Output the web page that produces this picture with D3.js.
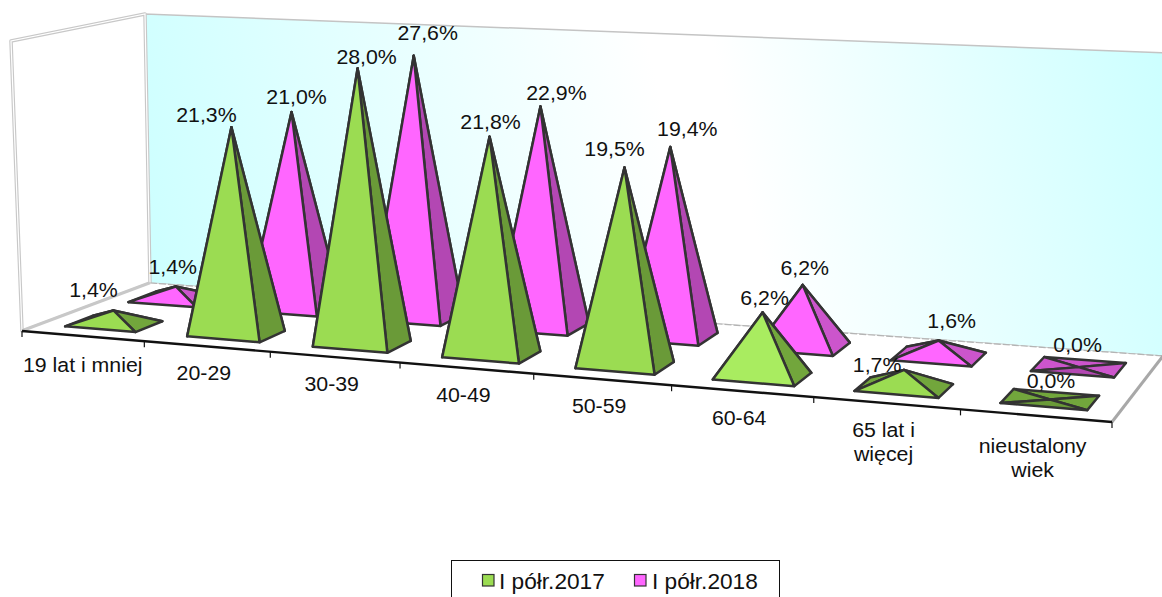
<!DOCTYPE html>
<html>
<head>
<meta charset="utf-8">
<style>
  html, body { margin: 0; padding: 0; background: #fff; overflow: hidden; }
  text { font-family: "Liberation Sans", Arial, sans-serif; fill: #111; }
</style>
<script src="https://cdn.jsdelivr.net/npm/d3@7/dist/d3.min.js"></script>
</head>
<body>
<svg id="chart" width="1162" height="597"></svg>
<script>
var categories = ['19 lat i mniej', '20-29', '30-39', '40-49', '50-59', '60-64', '65 lat i\nwięcej', 'nieustalony\nwiek'];
var values2017 = [1.4, 21.3, 28.0, 21.8, 19.5, 6.2, 1.7, 0.0];
var values2018 = [1.4, 21.0, 27.6, 22.9, 19.4, 6.2, 1.6, 0.0];
var axisMax = 30;

var svg = d3.select('#chart');
var fmt = d3.formatLocale({decimal: ',', thousands: ' ', grouping: [3], currency: ['', '']}).format('.1f');

// corners of the box: floor and the plane at the top of the value axis
var floorQuad = [[22, 331], [1112, 422], [1163, 356], [150, 283]];
var topQuad = [[11, 41], [1120, 95], [1169, 53], [145, 14]];

// foreshortening along the category axis, a bit weaker towards the back wall
function warp(t, d) {
  var k = 1.13 - 0.015 * d;
  return t / (k + (1 - k) * t);
}

function lerp(a, b, t) { return [a[0] + (b[0] - a[0]) * t, a[1] + (b[1] - a[1]) * t]; }
function onQuad(q, u, d) {
  var t = warp(u, d);
  return lerp(lerp(q[0], q[1], t), lerp(q[3], q[2], t), d);
}

// u along the categories, d into the depth, v height share
function project(u, d, v) {
  return lerp(onQuad(floorQuad, u, d), onQuad(topQuad, u, d), v);
}

var xScale = d3.scaleBand().domain(d3.range(categories.length)).range([0, 1]).paddingInner(0.42).paddingOuter(0.21);
var xEdge = d3.scaleLinear().domain([0, categories.length]).range([0, 1]);
var depthScale = d3.scaleBand().domain(['I półr.2017', 'I półr.2018']).range([0, 1]).paddingInner(0.56).paddingOuter(0.28);
var valueScale = d3.scaleLinear().domain([0, axisMax]).range([0, 1]);

var colors = {
  'I półr.2017': {front: '#9bdc52', side: '#6a9a38', lighter: '#a9ec60', lightSide: '#72a63c'},
  'I półr.2018': {front: '#ff66ff', side: '#b347b3', lighter: '#ff66ff', lightSide: '#cc55cc'}
};

var defs = svg.append('defs');
var grad = defs.append('linearGradient').attr('id', 'wallFill').attr('gradientUnits', 'userSpaceOnUse')
  .attr('x1', 145).attr('y1', 283).attr('x2', 1165).attr('y2', 53);
grad.append('stop').attr('offset', 0).attr('stop-color', '#ccffff');
grad.append('stop').attr('offset', 0.52).attr('stop-color', '#ffffff');
grad.append('stop').attr('offset', 0.58).attr('stop-color', '#ffffff');
grad.append('stop').attr('offset', 1).attr('stop-color', '#ccffff');

function pts(list) { return list.map(function(p) { return p[0] + ',' + p[1]; }).join(' '); }

function drawWalls() {
  var backWall = [floorQuad[3], floorQuad[2], topQuad[2], topQuad[3]];
  var leftWall = [floorQuad[0], floorQuad[3], topQuad[3], topQuad[0]];
  svg.append('polygon').attr('points', pts(backWall)).attr('fill', 'url(#wallFill)').attr('stroke', '#c4c4c4').attr('stroke-width', 1.5);
  svg.append('polygon').attr('points', pts(leftWall)).attr('fill', '#fff').attr('stroke', '#c8c8c8').attr('stroke-width', 3.5).attr('stroke-linejoin', 'round');
  svg.append('polygon').attr('points', pts(leftWall)).attr('fill', 'none').attr('stroke', '#fff').attr('stroke-width', 1.2);
  svg.append('polygon').attr('points', pts(floorQuad)).attr('fill', '#fff');
  // back edge of the floor
  svg.append('line').attr('x1', floorQuad[3][0]).attr('y1', floorQuad[3][1]).attr('x2', floorQuad[2][0]).attr('y2', floorQuad[2][1])
    .attr('stroke', '#b4b4b4').attr('stroke-width', 1.2).attr('stroke-dasharray', '7 2');
  // right edge
  svg.append('line').attr('x1', floorQuad[1][0]).attr('y1', floorQuad[1][1]).attr('x2', floorQuad[2][0]).attr('y2', floorQuad[2][1])
    .attr('stroke', '#a8a8a8').attr('stroke-width', 3);
  // left edge of the floor
  svg.append('line').attr('x1', floorQuad[0][0]).attr('y1', floorQuad[0][1]).attr('x2', floorQuad[3][0]).attr('y2', floorQuad[3][1])
    .attr('stroke', '#c8c8c8').attr('stroke-width', 2.5);
}

function drawAxis() {
  svg.append('line').attr('x1', floorQuad[0][0]).attr('y1', floorQuad[0][1]).attr('x2', floorQuad[1][0]).attr('y2', floorQuad[1][1])
    .attr('stroke', '#111').attr('stroke-width', 2.4);
  d3.range(categories.length + 1).forEach(function(i) {
    var p = project(xEdge(i), 0, 0);
    svg.append('line').attr('x1', p[0]).attr('y1', p[1]).attr('x2', p[0]).attr('y2', p[1] + 6)
      .attr('stroke', '#111').attr('stroke-width', 1.2);
  });
  categories.forEach(function(name, i) {
    var p = project(xEdge(i + 0.5), 0, 0);
    var dy = i === 0 ? 36 : 34; // first label sits a little lower
    if (i === categories.length - 1) dy = 37;
    var dx = i === 0 ? 0 : -3;
    name.split('\n').forEach(function(line, k) {
      addText(p[0] + dx, p[1] + dy + k * 24, line);
    });
  });
}

// original text is slightly wider than the font
function addText(x, y, str, anchor, size) {
  return svg.append('text')
    .attr('transform', 'translate(' + x + ',' + y + ') scale(1.05,1)')
    .attr('text-anchor', anchor || 'middle')
    .attr('font-size', size || 20.3)
    .text(str);
}

function drawPyramid(series, values, i) {
  var v = values[i], c = colors[series];
  var u0 = xScale(i), u1 = u0 + xScale.bandwidth();
  var d0 = depthScale(series), d1 = d0 + depthScale.bandwidth();
  var fl = project(u0, d0, 0), fr = project(u1, d0, 0), br = project(u1, d1, 0), bl = project(u0, d1, 0);
  var apex = project((u0 + u1) / 2, (d0 + d1) / 2, valueScale(v));
  var mid = v > 3 && v < 10;
  var front = v === 0 ? c.side : (mid ? c.lighter : c.front);
  var side = mid || v < 3 ? c.lightSide : c.side;
  var faces = [[[bl, br, apex], side], [[bl, fl, apex], side], [[fr, br, apex], side], [[fl, fr, apex], front]];
  faces.forEach(function(f) {
    svg.append('polygon').attr('points', pts(f[0])).attr('fill', f[1])
      .attr('stroke', '#333').attr('stroke-width', 2.5).attr('stroke-linejoin', 'round');
  });
  return apex;
}

// hand placed labels in the original, offset from the tip of each pyramid
var nudge2017 = [[-20, -20], [-25, -12], [9, -11], [1, -15], [-10, -18], [2, -14], [-27, -5], [1, -18]];
var nudge2018 = [[-3, -19], [5, -15], [14, -23], [16, -14], [17, -18], [2, -17], [13, -19], [-1, -22]];

function drawLegend() {
  svg.append('rect').attr('x', 451.5).attr('y', 560.5).attr('width', 328).attr('height', 50)
    .attr('fill', '#fff').attr('stroke', '#111').attr('stroke-width', 1);
  var items = [['I półr.2017', 482, 499], ['I półr.2018', 634, 652]];
  items.forEach(function(it) {
    svg.append('rect').attr('x', it[1] + 0.5).attr('y', 574.5).attr('width', 11.5).attr('height', 11.5)
      .attr('fill', colors[it[0]].front).attr('stroke', '#333').attr('stroke-width', 1.2);
    addText(it[2], 589, it[0], 'start', 21.6);
  });
}

drawWalls();
drawAxis();

var tips2018 = categories.map(function(c, i) { return drawPyramid('I półr.2018', values2018, i); });
var tips2017 = categories.map(function(c, i) { return drawPyramid('I półr.2017', values2017, i); });

tips2018.forEach(function(p, i) {
  addText(p[0] + nudge2018[i][0], p[1] + nudge2018[i][1] + 7, fmt(values2018[i]) + '%');
});
tips2017.forEach(function(p, i) {
  addText(p[0] + nudge2017[i][0], p[1] + nudge2017[i][1] + 7, fmt(values2017[i]) + '%');
});

drawLegend();
</script>
</body>
</html>
